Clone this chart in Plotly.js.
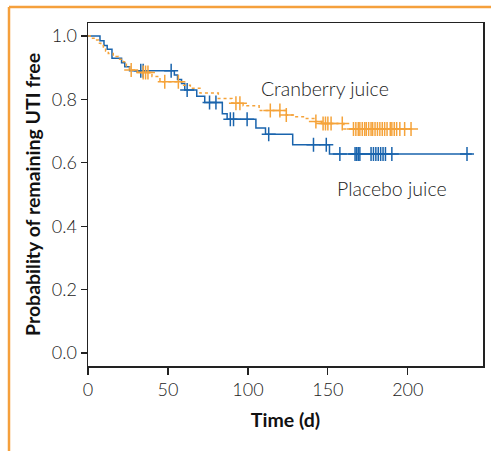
<!DOCTYPE html>
<html><head><meta charset="utf-8">
<script src="https://cdn.plot.ly/plotly-3.0.1.min.js"></script>
<style>html,body{margin:0;padding:0;background:#fff}#chart{width:491px;height:451px}</style>
</head><body><div id="chart"></div>
<script>
// Cranberry juice (Kaplan-Meier step curve)
const cranTime = [0, 2.3, 4.4, 6.5, 8, 9.6, 11, 12.7, 15.8, 19, 22, 24, 26, 31, 40, 45, 59, 64, 70, 81.5, 90, 97, 107, 124, 130, 136, 142, 146, 160, 204];
const cranSurv = [1.0, 0.993, 0.987, 0.977, 0.97, 0.961, 0.953, 0.945, 0.935, 0.927, 0.919, 0.905, 0.893, 0.885, 0.872, 0.856, 0.845, 0.835, 0.82, 0.803, 0.788, 0.78, 0.765, 0.751, 0.745, 0.74, 0.73, 0.724, 0.707, 0.707];
const cranCensor = [27, 34.5, 36, 37.5, 48, 56.5, 92.5, 95, 114, 120, 124, 142.5, 147, 148.5, 150, 152, 159, 166, 167.5, 169, 170, 171.5, 173, 174, 175.5, 177, 178, 179.5, 181, 182.5, 184, 185.5, 187, 189, 190, 191.5, 193, 195, 198, 202];
// Placebo juice
const placTime = [0, 7.5, 10, 12, 15, 21, 23, 26, 54, 56, 58.5, 60.5, 68, 73, 84, 87, 105, 111, 128, 151, 240];
const placSurv = [1.0, 0.985, 0.97, 0.958, 0.93, 0.916, 0.903, 0.89, 0.877, 0.863, 0.85, 0.83, 0.81, 0.79, 0.755, 0.737, 0.71, 0.69, 0.657, 0.628, 0.628];
const placCensor = [33, 34.5, 52, 62, 76, 80, 89, 91, 99.5, 113, 141, 149, 157.5, 167, 168, 169, 170, 177, 178.5, 180, 181.5, 183, 184.5, 186, 190, 237];
const labels = ["Cranberry juice", "Placebo juice"];

function stepAt(times, surv, t){ let s = surv[0]; for(let i=0;i<times.length;i++){ if(times[i]<=t) s=surv[i]; } return s; }

const orange = '#f5a33a', blue = '#1a64ad';
const traces = [
 {x: placTime, y: placSurv, mode:'lines', line:{shape:'hv', color:blue, width:1.5}, hoverinfo:'skip'},
 {x: placCensor, y: placCensor.map(t=>stepAt(placTime, placSurv, t)), mode:'markers', marker:{symbol:'cross-thin', size:10, line:{color:blue, width:1.5}}},
 {x: cranTime, y: cranSurv, mode:'lines', line:{shape:'hv', color:orange, width:1.5, dash:'dot'}},
 {x: cranCensor, y: cranCensor.map(t=>stepAt(cranTime, cranSurv, t)), mode:'markers', marker:{symbol:'cross-thin', size:10, line:{color:orange, width:1.5}}}
];
const tickFont = {family:'Lato, "Open Sans", sans-serif', size:18, color:'#222', weight:300};
const titleFont = {family:'Lato, "Open Sans", sans-serif', size:19.5, color:'#111', weight:'bold'};
const layout = {
 width:491, height:451, showlegend:false,
 paper_bgcolor:'#fff', plot_bgcolor:'#fff',
 margin:{l:88, r:8, t:23, b:85},
 xaxis:{range:[0,247], tickvals:[0,50,100,150,200], ticks:'outside', ticklen:7, tickwidth:1.2, tickcolor:'#222',
   showline:true, mirror:true, linecolor:'#222', linewidth:1.5, showgrid:false, zeroline:false, tickfont:tickFont,
   title:{text:'Time (d)', font:titleFont, standoff:14}},
 yaxis:{range:[-0.041,1.041], tickvals:[0,0.2,0.4,0.6,0.8,1.0], tickformat:'.1f', ticks:'outside', ticklen:6, tickwidth:1.2, tickcolor:'#222',
   showline:true, mirror:true, linecolor:'#222', linewidth:1.5, showgrid:false, zeroline:false, tickfont:tickFont,
   title:{text:'Probability of remaining UTI free', font:titleFont, standoff:6}},
 annotations:[
  {x:148, y:0.833, xref:'x', yref:'y', text:labels[0], showarrow:false, font:{family:'Lato, sans-serif', size:19.5, color:'#222', weight:300}},
  {x:190, y:0.52, xref:'x', yref:'y', text:labels[1], showarrow:false, font:{family:'Lato, sans-serif', size:19.5, color:'#222', weight:300}}
 ],
 shapes:[
  {type:'line', xref:'paper', yref:'paper', x0:(9-88)/395, x1:(491-88)/395, y0:(451-85-7)/343, y1:(451-85-7)/343, line:{color:'#f5a03c', width:2.5}},
  {type:'line', xref:'paper', yref:'paper', x0:(9-88)/395, x1:(9-88)/395, y0:(451-85-7)/343, y1:-85/343, line:{color:'#f5a03c', width:2.5}}
 ]
};
Plotly.newPlot('chart', traces, layout, {displayModeBar:false, staticPlot:true});
</script></body></html>
